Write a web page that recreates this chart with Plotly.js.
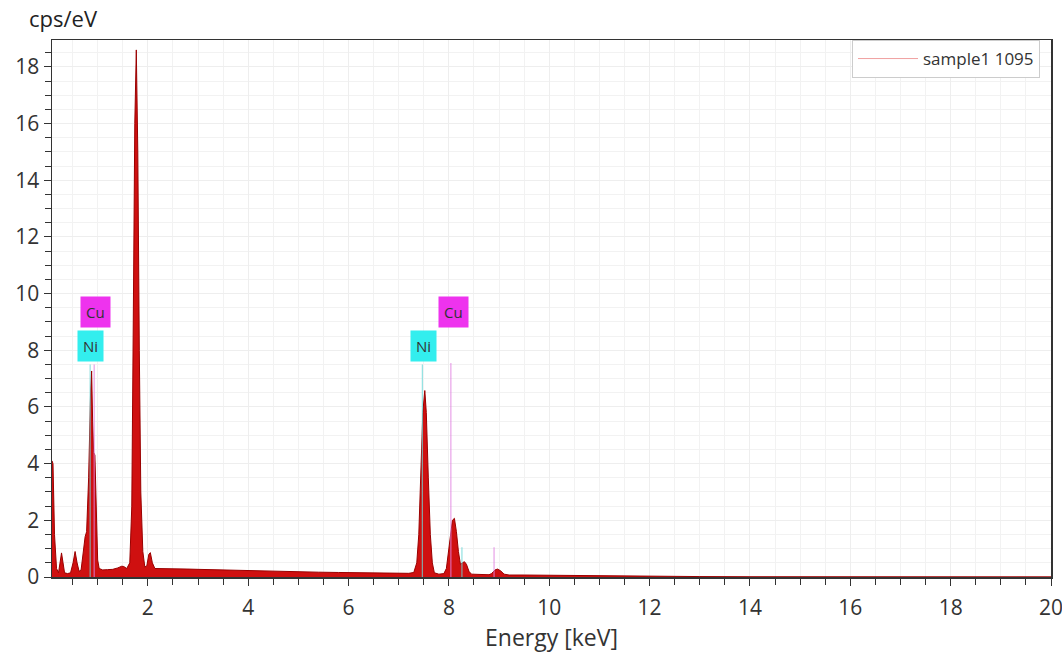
<!DOCTYPE html>
<html>
<head>
<meta charset="utf-8">
<script src="https://cdn.plot.ly/plotly-3.0.1.min.js"></script>
<style>html,body{margin:0;padding:0;background:#fff;}#chart{width:1062px;height:654px;}</style>
</head>
<body>
<div id="chart"></div>
<script>
// Spectrum (energy in keV, intensity in cps/eV)
const energy = [0.09,0.11,0.14,0.18,0.22,0.26,0.28,0.31,0.34,0.40,0.46,0.51,0.55,0.59,0.63,0.67,0.71,0.75,0.78,0.82,0.86,0.88,0.90,0.92,0.945,0.97,1.00,1.03,1.10,1.20,1.30,1.40,1.48,1.52,1.58,1.64,1.68,1.71,1.74,1.77,1.80,1.83,1.86,1.90,1.94,1.98,2.02,2.05,2.09,2.14,2.25,2.4,2.6,2.8,3.0,3.2,3.4,3.6,3.8,4.0,4.3,4.6,5.0,5.4,5.8,6.2,6.6,7.0,7.2,7.3,7.36,7.40,7.44,7.48,7.52,7.55,7.59,7.63,7.67,7.71,7.8,7.9,7.95,7.99,8.03,8.07,8.11,8.15,8.19,8.23,8.27,8.31,8.35,8.40,8.45,8.6,8.8,8.85,8.92,8.97,9.03,9.1,9.2,9.5,10.0,10.5,11.0,11.5,12.0,12.5,13.0,14.0,15.0,16.0,17.0,18.0,19.0,20.0];
const cps = [4.1,4.0,1.5,0.3,0.15,0.6,0.85,0.5,0.15,0.12,0.15,0.5,0.9,0.5,0.2,0.25,0.9,1.42,1.6,3.5,6.6,7.27,5.5,4.4,4.3,2.5,0.6,0.3,0.25,0.26,0.27,0.32,0.38,0.37,0.3,0.5,2.5,9.0,16.0,18.6,15.0,8.0,3.0,0.9,0.35,0.4,0.8,0.86,0.5,0.3,0.3,0.3,0.29,0.28,0.27,0.26,0.25,0.24,0.23,0.22,0.21,0.2,0.19,0.17,0.16,0.15,0.14,0.13,0.13,0.16,0.5,1.5,3.8,5.8,6.58,5.8,3.5,1.5,0.5,0.15,0.1,0.12,0.3,0.9,1.6,2.0,2.07,1.6,0.9,0.45,0.5,0.54,0.45,0.2,0.1,0.08,0.08,0.12,0.25,0.28,0.22,0.1,0.07,0.07,0.06,0.05,0.05,0.04,0.03,0.025,0.015,0.01,0.01,0.008,0.008,0.006,0.005,0.005];

// Element marker lines
const markerElements = ["Ni","Cu","Ni","Cu","Ni","Cu"];
const markerEnergy = [0.85,0.93,7.47,8.04,8.26,8.90];
const markerHeight = [7.5,7.5,7.5,7.55,1.05,1.05];

// Element label boxes
const labelText = ["Ni","Cu","Ni","Cu"];
const labelEnergy = [0.86,0.95,7.49,8.10];
const labelY = [8.15,9.35,8.15,9.35];

const seriesName = "sample1 1095";
const elemColor = {Ni:"#33eeee", Cu:"#ee33ee"};
const elemLine = {Ni:"rgba(110,215,215,0.9)", Cu:"rgba(225,130,225,0.9)"};

const traces = [];
traces.push({
  x: energy, y: cps, type: "scatter", mode: "lines",
  fill: "tozeroy", fillcolor: "#cf1010",
  line: {color: "#9a0000", width: 1},
  showlegend: false, hoverinfo: "x+y"
});
for (let i = 0; i < markerEnergy.length; i++) {
  traces.push({
    x: [markerEnergy[i], markerEnergy[i]], y: [0, markerHeight[i]],
    type: "scatter", mode: "lines",
    line: {color: elemLine[markerElements[i]], width: 1},
    showlegend: false, hoverinfo: "skip"
  });
}
// legend entry
traces.push({
  x: [null], y: [null], type: "scatter", mode: "lines",
  name: seriesName, line: {color: "#f0a0a0", width: 1}
});

const annotations = labelText.map((t, i) => ({
  x: labelEnergy[i], y: labelY[i], xref: "x", yref: "y",
  text: t, showarrow: false,
  bgcolor: elemColor[t], borderpad: 5,
  font: {family: "Open Sans, sans-serif", size: 15, color: "#333"}
}));
annotations.push({
  xref: "paper", yref: "paper", x: 0, y: 1, xanchor: "left", yanchor: "bottom",
  xshift: -25, yshift: 5, text: "cps/eV", showarrow: false,
  font: {family: "Open Sans, sans-serif", size: 22, color: "#222"}
});

const axisCommon = {
  showline: true, linecolor: "#333", linewidth: 1.5, mirror: true,
  ticks: "outside", ticklen: 7, tickwidth: 1, tickcolor: "#333",
  showgrid: true, gridcolor: "#eeeeee", gridwidth: 1, zeroline: false,
  ticklabeloverflow: "allow",
  tickfont: {family: "Open Sans, sans-serif", size: 21, color: "#333"}
};

const layout = {
  width: 1062, height: 654,
  margin: {l: 52, r: 11, t: 40, b: 77},
  paper_bgcolor: "#fff", plot_bgcolor: "#fff",
  font: {family: "Open Sans, sans-serif", color: "#333"},
  xaxis: Object.assign({}, axisCommon, {
    range: [0.09, 20], tick0: 0, dtick: 2, ticklabelstandoff: 4,
    minor: {dtick: 0.5, ticks: "outside", ticklen: 6, tickcolor: "#333", showgrid: true, gridcolor: "#f2f2f2"},
    title: {text: "Energy [keV]", font: {family: "Open Sans, sans-serif", size: 23, color: "#333"}, standoff: 6}
  }),
  yaxis: Object.assign({}, axisCommon, {
    range: [0, 18.95], tick0: 0, dtick: 2,
    minor: {dtick: 0.5, ticks: "outside", ticklen: 6, tickcolor: "#333", showgrid: true, gridcolor: "#f2f2f2"}
  }),
  legend: {
    x: 0.989, y: 1, xanchor: "right", yanchor: "top",
    bgcolor: "#fff", bordercolor: "#cccccc", borderwidth: 1,
    itemwidth: 60,
    font: {family: "Open Sans, sans-serif", size: 17, color: "#333"}
  },
  annotations: annotations,
  showlegend: true
};

Plotly.newPlot("chart", traces, layout, {displayModeBar: false, staticPlot: true});
</script>
</body>
</html>
